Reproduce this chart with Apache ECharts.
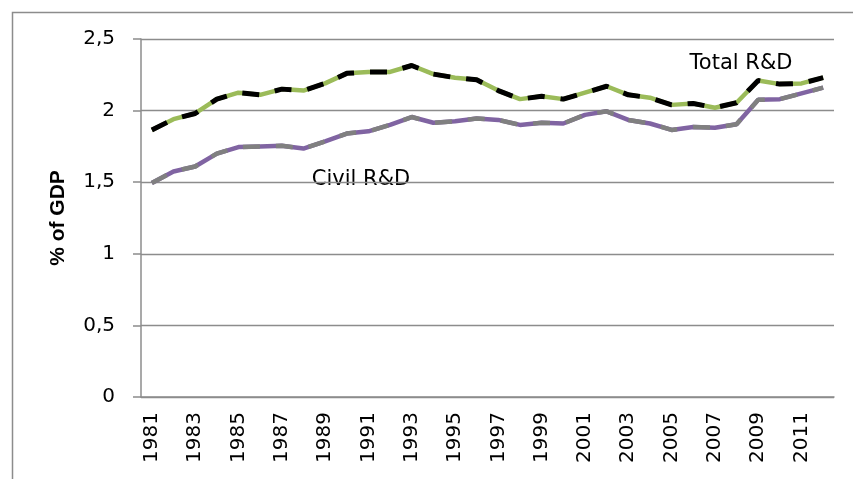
<!DOCTYPE html>
<html>
<head>
<meta charset="utf-8">
<script src="https://cdn.jsdelivr.net/npm/echarts@6/dist/echarts.min.js"></script>
<style>
  html, body { margin: 0; padding: 0; background: #fff; }
  #chart { width: 853px; height: 479px; }
</style>
</head>
<body>
<div id="chart"></div>
<script>
const years = []
for (let y = 1981; y <= 2012; y++) years.push(String(y))

const totalRD = [
  1.865, 1.94, 1.98, 2.08, 2.125, 2.11, 2.15, 2.14, 2.19, 2.26,
  2.27, 2.27, 2.315, 2.255, 2.23, 2.215, 2.14, 2.08, 2.10, 2.08,
  2.125, 2.17, 2.11, 2.09, 2.04, 2.05, 2.02, 2.055, 2.21, 2.185,
  2.19, 2.23
]
const civilRD = [
  1.495, 1.575, 1.61, 1.70, 1.745, 1.75, 1.755, 1.735, 1.785, 1.84,
  1.855, 1.90, 1.955, 1.915, 1.925, 1.945, 1.935, 1.90, 1.915, 1.91,
  1.97, 1.995, 1.935, 1.91, 1.865, 1.885, 1.88, 1.905, 2.075, 2.08,
  2.12, 2.16
]

const FONT = 'DejaVu Sans'
const GRID = '#8c8c8c'

const chart = echarts.init(document.getElementById('chart'), null, { renderer: 'canvas' })

chart.setOption({
  animation: false,
  backgroundColor: '#fff',
  grid: { left: 141, right: 19, top: 39, bottom: 82 },
  xAxis: {
    type: 'category',
    data: years,
    boundaryGap: true,
    axisLine: { lineStyle: { color: GRID, width: 1.5 } },
    axisTick: { show: false },
    axisLabel: {
      interval: 1,
      rotate: 90,
      margin: 15,
      color: '#000',
      fontFamily: FONT,
      fontSize: 20,
    },
  },
  yAxis: {
    type: 'value',
    min: 0,
    max: 2.5,
    interval: 0.5,
    name: '% of GDP',
    nameLocation: 'middle',
    nameGap: 72,
    nameRotate: 90,
    nameTextStyle: { color: '#000', fontFamily: 'Liberation Sans', fontWeight: 'bold', fontSize: 21 },
    axisLine: { show: true, lineStyle: { color: GRID, width: 1.5 } },
    axisTick: { show: true, length: 8, lineStyle: { color: GRID, width: 1.5 } },
    splitLine: { lineStyle: { color: GRID, width: 1.3 } },
    axisLabel: {
      margin: 26,
      color: '#000',
      fontFamily: FONT,
      fontSize: 20,
      formatter: v => String(v).replace('.', ','),
    },
  },
  series: [
    { name: 'Total R&D', type: 'line', data: totalRD, symbol: 'none',
      lineStyle: { color: '#9bbb59', width: 4.5 } },
    { name: 'Total R&D dash', type: 'line', data: totalRD, symbol: 'none',
      lineStyle: { color: '#000', width: 5, type: [17, 16] } },
    { name: 'Civil R&D', type: 'line', data: civilRD, symbol: 'none',
      lineStyle: { color: '#8064a2', width: 4.5 } },
    { name: 'Civil R&D dash', type: 'line', data: civilRD, symbol: 'none',
      lineStyle: { color: '#808080', width: 4.5, type: [17, 16] } },
  ],
  graphic: [
    { type: 'rect', left: 10, top: 10, shape: { width: 900, height: 520 },
      style: { fill: null, stroke: GRID, lineWidth: 1.5 }, silent: true },
    { type: 'text', x: 741, y: 64, style: { text: 'Total R&D', fill: '#000',
      font: '21px "DejaVu Sans"', align: 'center', verticalAlign: 'middle' } },
    { type: 'text', x: 361, y: 180, style: { text: 'Civil R&D', fill: '#000',
      font: '21px "DejaVu Sans"', align: 'center', verticalAlign: 'middle' } },
  ],
})
</script>
</body>
</html>
